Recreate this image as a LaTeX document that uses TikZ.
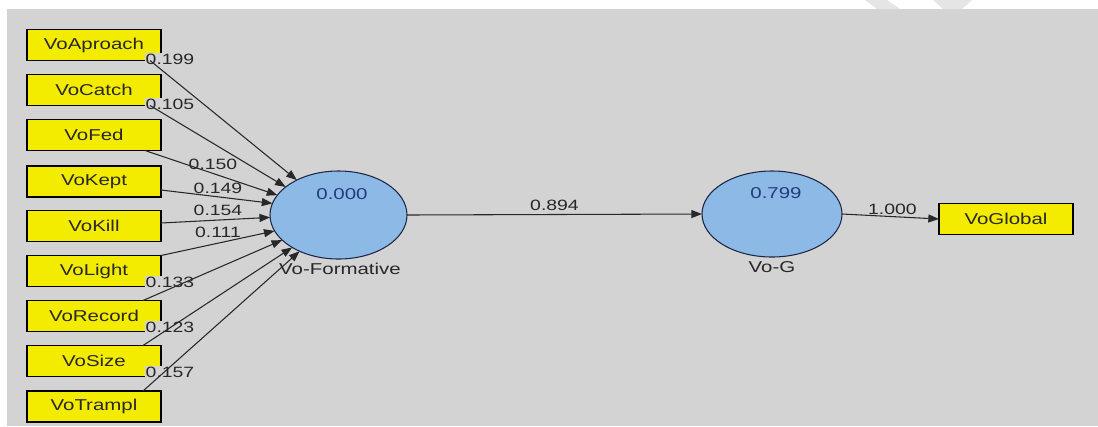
\documentclass[tikz,border=0pt]{standalone}
\usepackage{fontspec}
\newfontfamily\plsfont[FakeStretch=1.3]{Liberation Sans}
\usetikzlibrary{arrows.meta,calc,shapes.geometric}
\definecolor{canvas}{RGB}{212,211,212}
\definecolor{wmgray}{RGB}{229,229,229}
\definecolor{indbox}{RGB}{243,235,0}
\definecolor{latent}{RGB}{141,185,230}
\definecolor{latedge}{RGB}{30,40,70}
\definecolor{valblue}{RGB}{35,60,125}
\definecolor{ink}{RGB}{40,40,40}

\begin{document}
\begin{tikzpicture}[x=0.75pt,y=-0.75pt,
  every node/.style={font=\plsfont\fontsize{11.8}{14}\selectfont, text=ink},
  indicator/.style={draw=black, line width=0.9pt, fill=indbox,
    minimum width=100.5pt, minimum height=23.25pt, inner sep=0pt, outer sep=0pt},
  construct/.style={ellipse, draw=latedge, line width=0.8pt, fill=latent,
    inner sep=0pt, outer sep=0pt},
  weight/.style={fill=canvas, inner sep=0.3pt, font=\plsfont\fontsize{11.2}{13}\selectfont},
  value/.style={text=valblue},
  link/.style={draw=ink, line width=0.8pt, -{Triangle[length=8pt,width=6pt]}},
]
% page and canvas
\useasboundingbox (0,0) rectangle (1098,426);
\fill[white] (0,0) rectangle (1098,426);
\fill[canvas] (7,9) rectangle (1098,426);
\fill[wmgray] (865,0) -- (887,0) -- (900,9) -- (877,9) -- cycle;
\fill[wmgray] (933,0) -- (972,0) -- (962,9) -- (943,9) -- cycle;

% indicator boxes
\node[indicator] (apr) at (94,45)    {VoAproach};
\node[indicator] (cat) at (94,90)    {VoCatch};
\node[indicator] (fed) at (94,135)   {VoFed};
\node[indicator] (kep) at (94,181.5) {VoKept};
\node[indicator] (kil) at (94,226)   {VoKill};
\node[indicator] (lig) at (94,271)   {VoLight};
\node[indicator] (rec) at (94,316)   {VoRecord};
\node[indicator] (siz) at (94,361)   {VoSize};
\node[indicator] (tra) at (94,406.5) {VoTrampl};
\node[indicator] (glo) at (1006,219) {VoGlobal};

% constructs
\node[construct, minimum width=102.75pt, minimum height=66pt] (form) at (338.5,215) {};
\node[construct, minimum width=105pt, minimum height=64.5pt] (vog) at (772,214) {};
\node[value] (formval) at (342,194) {0.000};
\node[value] (vogval) at (776,193) {0.799};
\node (formcap) at (340,269) {Vo-Formative};
\node (vogcap) at (772,267) {Vo-G};

% outer weights
\node[weight] (w1) at (170,59)  {0.199};
\node[weight] (w2) at (170,104) {0.105};
\node[weight] (w3) at (213,164) {0.150};
\node[weight] (w4) at (218,188) {0.149};
\node[weight] (w5) at (218,210) {0.154};
\node[weight] (w6) at (218,232) {0.111};
\node[weight] (w7) at (170,282) {0.133};
\node[weight] (w8) at (170,327) {0.123};
\node[weight] (w9) at (170,372) {0.157};

% formative paths
\draw[link] ($(apr.south east)+(-11,0)$) -- (form.140);
\draw[link] ($(cat.south east)+(-11,0)$) -- (form.152);
\draw[link] ($(fed.south east)+(-16,0)$) -- (form.162);
\draw[link] ($(kep.east)+(0,8.5)$) -- (form.170);
\draw[link] ($(kil.east)+(0,-3)$) -- (form.182);
\draw[link] (lig.north east) -- (form.194);
\draw[link] ($(rec.north east)+(-18,0)$) -- (form.204);
\draw[link] ($(siz.north east)+(-18,0)$) -- (form.215);
\draw[link] ($(tra.north east)+(-18,0)$) -- (form.223);

% structural and reflective paths
\draw[link] (form.east) -- (vog.west) node[weight, pos=0.5, above=2pt, fill=none] (b1) {0.894};
\draw[link] (vog.east) -- (glo.west) node[weight, pos=0.52, above=1pt, fill=none] (b2) {1.000};
\end{tikzpicture}
\end{document}
